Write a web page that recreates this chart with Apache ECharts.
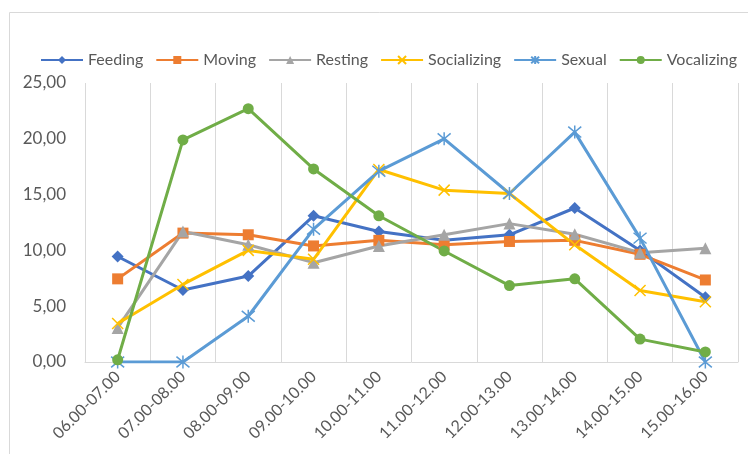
<!DOCTYPE html>
<html>
<head>
<meta charset="utf-8">
<script src="https://cdn.jsdelivr.net/npm/echarts@6/dist/echarts.min.js"></script>
<style>
  html, body { margin: 0; padding: 0; background: #fff; }
  #chart { width: 748px; height: 454px; }
</style>
</head>
<body>
<div id="chart"></div>
<script>
'use strict';
const hours = ['06.00-07.00', '07.00-08.00', '08.00-09.00', '09.00-10.00', '10.00-11.00',
    '11.00-12.00', '12.00-13.00', '13.00-14.00', '14.00-15.00', '15.00-16.00'];
const feeding = [9.45, 6.45, 7.7, 13.1, 11.7, 10.9, 11.4, 13.8, 10.0, 5.8];
const moving = [7.45, 11.55, 11.4, 10.4, 10.9, 10.5, 10.8, 10.9, 9.65, 7.35];
const resting = [3.05, 11.7, 10.5, 8.9, 10.4, 11.4, 12.4, 11.45, 9.8, 10.2];
const socializing = [3.45, 6.95, 10.0, 9.2, 17.25, 15.4, 15.1, 10.5, 6.4, 5.4];
const sexual = [0, 0, 4.1, 11.9, 17.1, 20.0, 15.1, 20.6, 11.1, 0];
const vocalizing = [0.2, 19.9, 22.7, 17.3, 13.1, 9.95, 6.85, 7.45, 2.05, 0.9];
const yTicks = [0, 5, 10, 15, 20, 25];

const crossPath = 'path://M0,0L10,10M10,0L0,10';
const starPath = 'path://M0,0L10,10M10,0L0,10M5,-1L5,11';

function init() {
    const chart = echarts.init(document.getElementById('chart'));
    const font = 'Lato, "Open Sans", sans-serif';

    function line(name, data, color, symbol, size, stroked) {
        return {
            name: name,
            type: 'line',
            data: data,
            symbol: symbol,
            symbolSize: size,
            lineStyle: { color: color, width: 3 },
            itemStyle: stroked
                ? { color: 'rgba(0,0,0,0)', borderColor: color, borderWidth: 1.5 }
                : { color: color },
            emphasis: { disabled: true },
        };
    }

    const option = {
        animation: false,
        textStyle: { fontFamily: font },
        graphic: [{
            type: 'rect',
            shape: { x: 9.5, y: 12.5, width: 800, height: 500 },
            style: { fill: 'none', stroke: '#d9d9d9', lineWidth: 1 },
            silent: true,
        }],
        legend: {
            top: 52,
            left: 40,
            right: 0,
            padding: 0,
            itemWidth: 42,
            itemHeight: 10,
            itemGap: 12,
            textStyle: { fontSize: 16, color: '#595959', fontFamily: font },
        },
        grid: { left: 85, right: 10, top: 83, bottom: 92 },
        xAxis: {
            type: 'category',
            data: hours,
            boundaryGap: true,
            axisLine: { lineStyle: { color: '#d9d9d9', width: 1 } },
            axisTick: { show: false },
            splitLine: { show: true, lineStyle: { color: '#d9d9d9', width: 1 } },
            axisLabel: {
                rotate: 45,
                interval: 0,
                fontSize: 16,
                color: '#595959',
                margin: 12,
            },
        },
        yAxis: {
            type: 'value',
            min: yTicks[0],
            max: yTicks[yTicks.length - 1],
            interval: yTicks[1] - yTicks[0],
            axisLine: { show: false },
            axisTick: { show: false },
            splitLine: { show: false },
            axisLabel: {
                fontSize: 17,
                color: '#595959',
                margin: 19,
                formatter: (v) => v.toFixed(2).replace('.', ','),
            },
        },
        series: [
            line('Feeding', feeding, '#4472C4', 'diamond', 12, false),
            line('Moving', moving, '#ED7D31', 'rect', 11, false),
            line('Resting', resting, '#A5A5A5', 'triangle', 12, false),
            line('Socializing', socializing, '#FFC000', crossPath, 11, true),
            line('Sexual', sexual, '#5B9BD5', starPath, 13, true),
            line('Vocalizing', vocalizing, '#70AD47', 'circle', 11, false),
        ],
    };
    chart.setOption(option);
}

(function () {
    init();
})();
</script>
</body>
</html>
